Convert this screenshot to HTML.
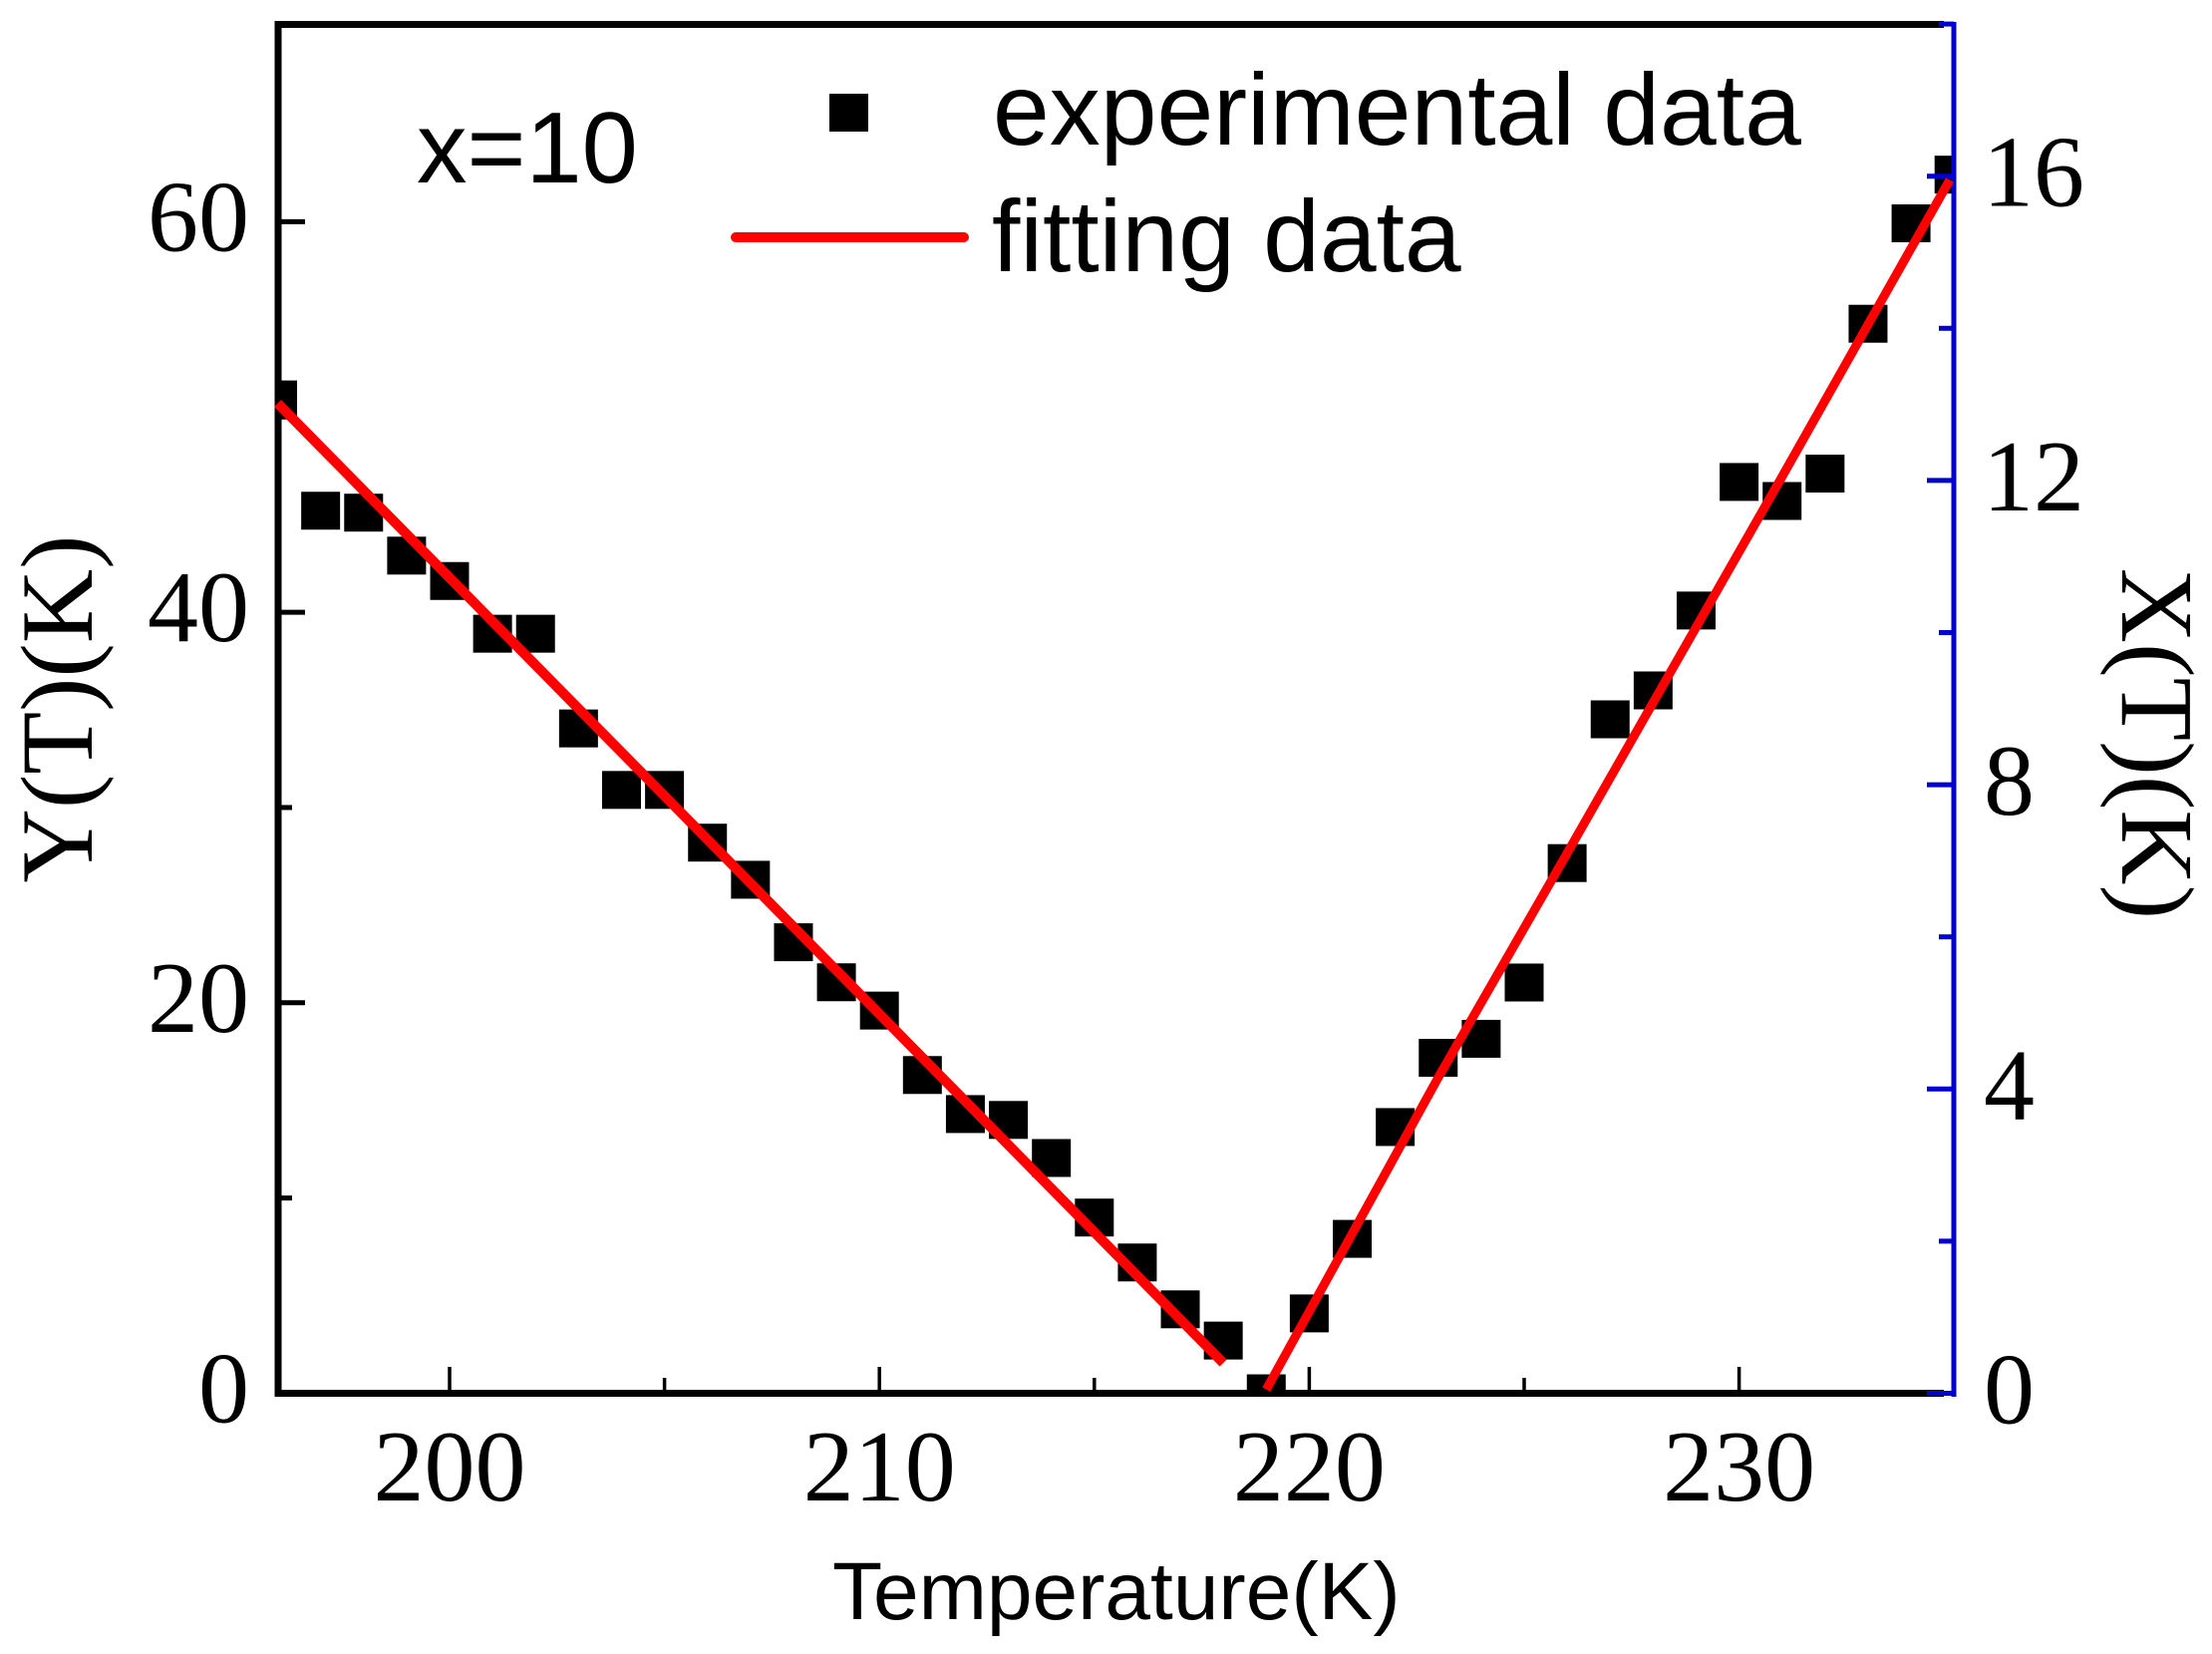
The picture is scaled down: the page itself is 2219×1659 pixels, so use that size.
<!DOCTYPE html>
<html>
<head>
<meta charset="utf-8">
<style>
html,body{margin:0;padding:0;background:#fff;width:2219px;height:1659px;overflow:hidden}
svg{display:block}
.sans{font-family:"Liberation Sans",sans-serif;fill:#000}
.serif{font-family:"Liberation Serif",serif;fill:#000}
</style>
</head>
<body>
<svg id="chart" xmlns="http://www.w3.org/2000/svg" width="2219" height="1659" viewBox="0 0 2219 1659">
  <defs><clipPath id="plot-clip"><rect x="279" y="24" width="1681" height="1373"/></clipPath></defs>
  <rect x="0" y="0" width="2219" height="1659" fill="#fff"/>
  <g id="squares" clip-path="url(#plot-clip)"></g>
  <g id="axes"></g>
  <g id="fits"></g>
  <g id="labels"></g>

  <text class="sans" x="418" y="183" font-size="101">x=10</text>
  <rect x="832" y="94" width="39" height="38" fill="#000"/>
  <text class="sans" x="996" y="145" font-size="102">experimental data</text>
  <line x1="738" y1="238" x2="967" y2="238" stroke="#f00" stroke-width="10" stroke-linecap="round"/>
  <text class="sans" x="995" y="272" font-size="102">fitting data</text>

  <text class="serif" font-size="103" text-anchor="middle" transform="translate(92 711) rotate(-90)">Y(T)(K)</text>
  <text class="serif" font-size="104" text-anchor="middle" transform="translate(2129 746) rotate(90)">X(T)(K)</text>
  <text class="sans" font-size="82" x="835" y="1624">Temperature(K)</text>
</svg>
<script>
// Left branch: Y(T) in K, read against the left axis
var leftTemps = [196,197,198,199,200,201,202,203,204,205,206,207,208,209,210,211,212,213,214,215,216,217,218,219];
var leftValues = [50.9,45.2,45.1,42.9,41.6,38.9,38.9,34.05,30.9,30.9,28.2,26.3,23.1,21.05,19.6,16.3,14.3,14.0,12.05,9.0,6.7,4.3,2.7,0];
// Right branch: X(T) in K, read against the right axis
var rightTemps = [220,221,222,223,224,225,226,227,228,229,230,231,232,233,234,235];
var rightValues = [1.05,2.03,3.5,4.41,4.66,5.4,6.97,8.86,9.24,10.29,11.98,11.73,12.09,14.06,15.38,16.02];
// Fit curves
var fitLeftTemps = [196,218];
var fitLeftValues = [50.7,1.55];
var fitRightTemps = [219,221,223,226,231,234.9];
var fitRightValues = [0.05,2.1,4.15,7.1,12.05,15.95];
// Ticks
var xMajorTicks = [200,210,220,230];
var xMinorTicks = [205,215,225];
var leftMajorTicks = [0,20,40,60];
var leftMinorTicks = [10,30,50];
var rightMajorTicks = [0,4,8,12,16];
var rightMinorTicks = [2,6,10,14,18];

function xScale(t){ return 451 + (t - 200) * 43.12; }
function yLeft(v){ return 1397.5 - v * 19.585; }
function yRight(v){ return 1397.5 - v * 76.3; }

var NS = 'http://www.w3.org/2000/svg';
function make(tag, parentId, attrs, text){
  var el = document.createElementNS(NS, tag);
  for (var k in attrs) el.setAttribute(k, attrs[k]);
  if (text !== undefined) el.textContent = text;
  document.getElementById(parentId).appendChild(el);
  return el;
}
function pointsString(temps, values, yFn){
  return temps.map(function(t, i){ return xScale(t) + ',' + yFn(values[i]); }).join(' ');
}
var el;

// Points
leftTemps.forEach(function(t, i){
  el = make('rect', 'squares', {x: xScale(t) - 19.5, y: yLeft(leftValues[i]) - 19, width: 39, height: 38, fill: '#000'});
  
  
});
rightTemps.forEach(function(t, i){
  el = make('rect', 'squares', {x: xScale(t) - 19.5, y: yRight(rightValues[i]) - 19, width: 39, height: 38, fill: '#000'});
  
  
});

// Spines
el = make('line', 'axes', {x1: 275.5, y1: 24.5, x2: 1950, y2: 24.5, stroke: '#000', 'stroke-width': 7});


el = make('line', 'axes', {x1: 279, y1: 21, x2: 279, y2: 1401, stroke: '#000', 'stroke-width': 7});


el = make('line', 'axes', {x1: 275.5, y1: 1397.5, x2: 1950, y2: 1397.5, stroke: '#000', 'stroke-width': 7});



// X ticks
xMajorTicks.forEach(function(t){
  el = make('line', 'axes', {x1: xScale(t), y1: 1397, x2: xScale(t), y2: 1371, stroke: '#000', 'stroke-width': 3.5});
  
  
  el = make('text', 'labels', {x: xScale(t), y: 1505, 'text-anchor': 'middle', 'font-size': 102, 'class': 'serif'}, String(t));
  
  
});
xMinorTicks.forEach(function(t){
  el = make('line', 'axes', {x1: xScale(t), y1: 1397, x2: xScale(t), y2: 1382, stroke: '#000', 'stroke-width': 3.5});
  
  
});

// Left ticks
leftMajorTicks.forEach(function(v){
  el = make('line', 'axes', {x1: 279, y1: yLeft(v), x2: 306, y2: yLeft(v), stroke: '#000', 'stroke-width': 5});
  
  
  el = make('text', 'labels', {x: 250, y: yLeft(v) + 29, 'text-anchor': 'end', 'font-size': 102, 'class': 'serif'}, String(v));
  
  
});
leftMinorTicks.forEach(function(v){
  el = make('line', 'axes', {x1: 279, y1: yLeft(v), x2: 293, y2: yLeft(v), stroke: '#000', 'stroke-width': 5});
  
  
});

// Right axis
el = make('line', 'axes', {x1: 1960, y1: 22, x2: 1960, y2: 1401, stroke: '#0000d0', 'stroke-width': 5});


rightMajorTicks.forEach(function(v){
  el = make('line', 'axes', {x1: 1960, y1: yRight(v), x2: 1933, y2: yRight(v), stroke: '#0000d0', 'stroke-width': 5});
  
  
  el = make('text', 'labels', {x: v < 10 ? 2041 : 2091, y: yRight(v) + 30, 'text-anchor': 'end', 'font-size': 102, 'class': 'serif'}, String(v));
  
  
});
rightMinorTicks.forEach(function(v){
  el = make('line', 'axes', {x1: 1960, y1: yRight(v), x2: 1945, y2: yRight(v), stroke: '#0000d0', 'stroke-width': 5});
  
  
});

// Fit lines
el = make('polyline', 'fits', {points: pointsString(fitLeftTemps, fitLeftValues, yLeft), fill: 'none', stroke: '#f00', 'stroke-width': 10});


el = make('polyline', 'fits', {points: pointsString(fitRightTemps, fitRightValues, yRight), fill: 'none', stroke: '#f00', 'stroke-width': 9});


</script>
</body>
</html>
